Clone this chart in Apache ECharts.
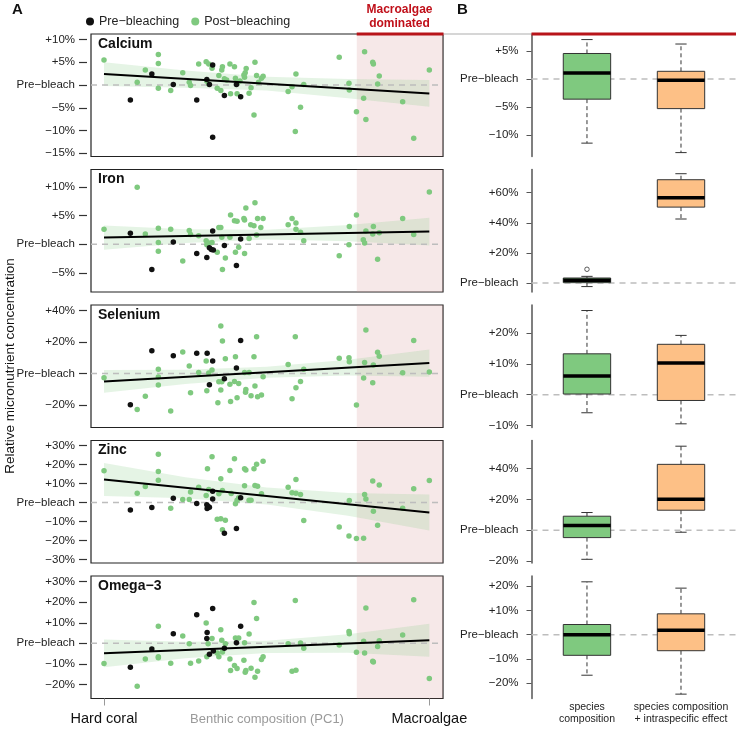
<!DOCTYPE html>
<html>
<head>
<meta charset="utf-8">
<script src="https://cdn.jsdelivr.net/npm/echarts@6/dist/echarts.min.js"></script>
<style>
  html, body { margin: 0; padding: 0; background: #fff; }
  #chart { width: 736px; height: 730px; }
</style>
</head>
<body>
<div id="chart"></div>
<script>
// ---- data (x: 0 = hard coral, 100 = macroalgae) ----
var panelNames = ['Calcium', 'Iron', 'Selenium', 'Zinc', 'Omega\u22123'];

var caPost = [[0,5.5],[10.2,0.6],[12.7,3.3],[16.7,6.7],[16.7,4.7],[16.7,-0.7],[20.5,-1.2],[24.2,2.7],[26.2,0.6],[26.6,-0.1],[29.1,4.6],[31.4,5.1],[32.2,4.6],[33.2,3.7],[31.6,0.8],[32.2,0.2],[34.8,-0.7],[35.3,2.1],[35.9,-1.2],[36.2,3.3],[36.4,4.0],[37.0,1.4],[37.7,1.1],[38.7,4.6],[38.9,-1.9],[40.1,4.0],[40.4,1.5],[40.9,-1.9],[41.0,0.5],[41.8,0.9],[43.0,2.2],[43.2,1.7],[43.4,2.7],[43.7,3.6],[44.6,-1.8],[45.2,-0.6],[46.1,-6.6],[46.4,5.0],[46.9,2.1],[47.5,0.6],[48.4,1.5],[48.9,1.9],[56.6,-1.4],[57.8,-0.4],[59.0,2.4],[58.8,-10.2],[60.4,-4.9],[61.4,0.1],[72.3,6.1],[75.3,0.4],[75.4,-1.1],[77.6,-5.9],[79.8,-2.9],[80.1,7.3],[80.5,-7.6],[82.6,5.0],[82.8,4.6],[84.1,0.2],[84.6,2.0],[91.8,-3.7],[95.2,-11.7],[100,3.3]];
var caPre = [[8.1,-3.3],[14.7,2.4],[21.3,0.1],[28.5,-3.3],[31.6,1.2],[32.4,0.1],[33.4,4.4],[33.4,-11.5],[37.0,-2.3],[40.7,0.1],[42.0,-2.6]];

var fePost = [[0,2.6],[10.2,9.9],[12.7,1.8],[16.7,2.8],[16.7,0.3],[16.7,-1.2],[20.5,2.6],[24.2,-2.9],[26.2,2.4],[26.6,1.7],[29.1,1.5],[31.4,0.6],[31.6,-0.1],[32.2,0.2],[33.2,0.3],[34.8,-1.4],[35.3,2.9],[35.9,2.9],[36.2,1.2],[36.4,-4.4],[37.3,-2.4],[38.7,1.2],[38.9,5.1],[40.1,4.1],[40.4,-1.4],[40.9,4.0],[41.4,-0.5],[43.0,4.5],[43.2,4.2],[43.2,-1.6],[43.6,6.3],[44.6,1.0],[45.1,3.4],[46.1,3.2],[46.4,7.2],[46.9,1.6],[47.2,4.5],[48.2,2.9],[48.9,4.5],[56.6,3.4],[57.8,4.5],[59.0,3.7],[59.0,2.6],[60.4,2.1],[61.4,0.6],[72.3,-2.0],[75.3,-0.1],[75.4,3.1],[77.6,5.1],[79.7,0.8],[80.1,0.2],[80.5,2.3],[82.6,1.8],[82.8,3.1],[84.1,-2.6],[84.6,2.0],[91.8,4.5],[95.2,1.7],[100,9.1]];
var fePre = [[8.1,1.9],[14.7,-4.4],[21.3,0.4],[28.5,-1.6],[31.6,-2.3],[32.4,-0.6],[33.0,-0.9],[33.6,-1.0],[33.4,2.3],[37.0,-0.2],[40.7,-3.7],[42.0,0.9]];

var sePost = [[0,-2.8],[10.2,-23],[12.7,-14.5],[16.7,2.6],[16.7,-2.3],[16.7,-7.4],[20.5,-24],[24.2,13.6],[26.2,4.7],[26.6,-12.3],[29.1,0.6],[31.4,7.9],[31.6,-11.1],[32.2,0.2],[33.2,2.1],[35.0,-18.7],[35.3,-5.3],[35.9,-10.6],[35.9,30.2],[36.2,-5.3],[36.4,20.6],[37.3,9.4],[38.7,-7.0],[38.9,-17.9],[40.1,-5.1],[40.4,10.6],[40.9,-15.5],[41.4,-6.4],[43.2,0.6],[43.5,-12.1],[43.6,-10.2],[44.6,0.6],[45.2,-14.3],[46.1,10.6],[46.4,-8.1],[46.9,23.4],[47.2,-14.9],[48.4,-13.8],[48.9,-2.1],[56.6,5.7],[57.8,-16.2],[58.8,23.4],[59.0,-9.1],[60.4,-5.1],[61.4,2.6],[72.3,9.6],[75.3,10.0],[75.4,7.4],[77.6,-20.2],[79.8,-3.0],[80.1,7.0],[80.5,27.7],[82.6,-6.0],[82.8,5.3],[84.1,13.4],[84.6,10.9],[91.8,0.4],[95.2,20.9],[100,0.9]];
var sePre = [[8.1,-20],[14.7,14.5],[21.3,11.3],[28.5,12.8],[31.7,12.8],[33.4,7.9],[32.4,-7.2],[37.0,-3.4],[40.7,3.4],[42.0,20.9]];

var znPost = [[0,16.7],[10.2,4.9],[12.7,8.5],[16.7,25.5],[16.7,16.4],[16.7,11.8],[20.5,-3.0],[24.2,1.6],[26.2,1.6],[26.6,5.5],[29.1,8.1],[31.4,3.7],[31.8,17.8],[32.2,6.9],[33.2,24.1],[34.8,-8.8],[35.3,4.6],[35.9,12.5],[35.9,-8.6],[36.4,-14.4],[36.4,6.3],[37.3,-9.3],[38.7,16.9],[39.1,4.8],[40.1,23.1],[40.4,-0.7],[40.9,1.2],[41.4,2.5],[43.2,8.8],[43.2,17.8],[43.6,17.1],[44.6,1.2],[45.2,1.2],[46.1,17.8],[46.4,9.0],[46.9,20.2],[47.2,8.6],[48.4,4.6],[48.9,21.8],[56.6,8.1],[57.8,5.1],[59.0,12.1],[59.0,4.9],[60.4,4.2],[61.4,-9.5],[72.3,-12.9],[75.3,-17.6],[75.4,1.1],[77.6,-19.0],[79.8,-18.8],[80.1,4.2],[80.5,1.9],[82.6,11.4],[82.8,-4.6],[84.1,-12.0],[84.6,9.2],[91.8,-3.0],[95.2,7.2],[100,11.6]];
var znPre = [[8.1,-3.9],[14.7,-2.6],[21.3,2.3],[28.5,-0.5],[31.6,-1.2],[31.7,-3.2],[32.4,-2.5],[32.0,-2.1],[33.4,6.0],[33.4,1.9],[37.0,-16.2],[40.7,-13.7],[42.0,2.5]];

var o3Post = [[0,-9.9],[10.2,-20.9],[12.7,-7.6],[16.7,8.3],[16.7,-6.5],[16.7,-7.0],[20.5,-9.7],[24.2,3.6],[26.2,-0.2],[26.6,-9.7],[29.1,-8.6],[31.4,9.9],[31.6,-6.5],[32.0,-0.2],[33.2,2.3],[34.8,-4.7],[35.3,-6.6],[35.9,6.6],[36.2,1.5],[36.4,-4.2],[37.3,-0.2],[38.7,-7.6],[38.9,-13.3],[40.1,-10.8],[40.4,2.6],[40.9,-12.3],[41.4,2.6],[43.0,-8.3],[43.2,0.3],[43.4,-14.1],[43.6,-13.3],[44.6,4.5],[45.2,-12.1],[46.1,19.9],[46.4,-16.5],[46.9,12.1],[47.2,-13.6],[48.4,-7.9],[48.9,-6.5],[56.6,-0.2],[57.8,-13.6],[58.8,20.9],[59.0,-13.1],[60.4,0.2],[61.4,-2.4],[72.3,-0.8],[75.3,5.8],[75.4,4.7],[77.6,-4.4],[79.8,1.0],[80.1,-4.7],[80.5,17.2],[82.6,-8.7],[82.8,-9.1],[84.1,-1.5],[84.6,1.3],[91.8,4.0],[95.2,21.2],[100,-17.2]];
var o3Pre = [[8.1,-11.7],[14.7,-2.8],[21.3,4.7],[28.5,13.9],[31.6,2.3],[31.7,5.3],[32.4,-5.3],[33.4,17.0],[33.6,-3.7],[37.0,-2.4],[40.7,0.3],[42.0,8.3]];

// fitted lines (value at x = 0 and x = 100) and confidence bands
var fitX = [0, 100];
var caFit = [2.4, -1.85], feFit = [1.16, 2.2], seFit = [-5.1, 6.6], znFit = [12.1, -5.3], o3Fit = [-4.9, 1.5];
var bandX = [0, 25, 50, 75, 100];
var caBandHi = [5.0, 3.2, 1.8, 1.3, 1.1],   caBandLo = [-0.2, -0.6, -1.2, -2.9, -4.8];
var feBandHi = [3.26, 2.62, 2.53, 3.34, 4.6], feBandLo = [-0.94, 0.22, 0.83, 0.54, -0.2];
var seBandHi = [2.1, 2.3, 4.25, 8.7, 15.3], seBandLo = [-12.3, -6.7, -2.75, -1.3, -2.1];
var znBandHi = [20.8, 13.3, 7.9, 5.05, 4.2], znBandLo = [3.4, 2.25, -1.1, -6.95, -14.8];
var o3BandHi = [1.9, 0.7, 1.3, 4.4, 9.5],    o3BandLo = [-11.7, -7.3, -4.7, -4.6, -6.5];
var macroStart = 77.7;

// left y axis ranges and ticks
var leftMin = [-15.7, -8.3, -34.5, -31.9, -26.9];
var leftMax = [11.2, 13.0, 43.6, 32.7, 32.8];
var leftTicks = [[10,5,0,-5,-10,-15],[10,5,0,-5],[40,20,0,-20],[30,20,10,0,-10,-20,-30],[30,20,10,0,-10,-20]];

// boxplots: [position, lower whisker, Q1, median, Q3, upper whisker]
var boxLabels = ['species\ncomposition', 'species composition\n+ intraspecific effect'];
var caBoxes = [[1, -11.5, -3.6, 1.1, 4.6, 7.1], [2, -13.2, -5.3, -0.2, 1.4, 6.3]];
var feBoxes = [[1, -2.4, 0.2, 1.8, 3.3, 4.4], [2, 42.5, 50.4, 56.6, 68.6, 72.6]];
var seBoxes = [[1, -5.9, 0.2, 6.1, 13.3, 27.4], [2, -9.5, -1.9, 10.3, 16.4, 19.3]];
var znBoxes = [[1, -18.9, -4.8, 3.0, 9.1, 11.5], [2, -1.3, 13.0, 20.2, 42.8, 54.6]];
var o3Boxes = [[1, -16.7, -8.5, 0, 4.2, 21.8], [2, -24.5, -6.6, 1.8, 8.6, 19.2]];
var feOutliers = [[1, 9.1]];

var rightMin = [-13.9, -6.0, -10.7, -21.3, -26.3];
var rightMax = [8.1, 75.4, 29.2, 58.3, 24.2];
var rightTicks = [[5,0,-5,-10],[60,40,20,0],[20,10,0,-10],[40,20,0,-20],[20,10,0,-10,-20]];

var postData = [caPost, fePost, sePost, znPost, o3Post];
var preData = [caPre, fePre, sePre, znPre, o3Pre];
var fits = [caFit, feFit, seFit, znFit, o3Fit];
var bandsHi = [caBandHi, feBandHi, seBandHi, znBandHi, o3BandHi];
var bandsLo = [caBandLo, feBandLo, seBandLo, znBandLo, o3BandLo];
var boxes = [caBoxes, feBoxes, seBoxes, znBoxes, o3Boxes];

// ---- layout ----
var tops = [34, 169.5, 305, 440.5, 576];
var panelH = 122.5;
var GREEN = '#7fc97f', ORANGE = '#fdc086';
var FONT = "'Liberation Sans', Arial, sans-serif";

function fmtPct(v) {
  if (v === 0) return 'Pre\u2212bleach';
  return (v > 0 ? '+' : '\u2212') + Math.abs(v) + '%';
}

var myChart = echarts.init(document.getElementById('chart'));

var grids = [], xAxes = [], yAxes = [], series = [], titles = [];

for (var i = 0; i < 5; i++) {
  grids.push({ left: 91, right: 293, top: tops[i], height: panelH, show: true, outerBoundsMode: 'none',
               borderColor: '#222', borderWidth: 1.2, backgroundColor: 'transparent' });
  var last = (i === 4);
  xAxes.push({
    gridIndex: i, type: 'value', min: -4.0, max: 104.2, position: 'bottom',
    splitLine: { show: false }, axisLine: { show: false, onZero: false },
    axisTick: { show: last, length: 7, lineStyle: { color: '#999' }, customValues: [0, 100] },
    axisLabel: { show: last, margin: 13, fontSize: 14.5, color: '#111', fontFamily: FONT,
                 customValues: [0, 100],
                 formatter: function (v) { return v === 0 ? 'Hard coral' : 'Macroalgae'; } },
    name: last ? 'Benthic composition (PC1)' : '', nameLocation: 'middle', nameGap: 14,
    nameMoveOverlap: false,
    nameTextStyle: { color: '#9a9a9a', fontSize: 13, fontFamily: FONT, verticalAlign: 'top' }
  });
  // R-style axis: ticks sit a few pixels left of the box
  yAxes.push({
    gridIndex: i, type: 'value', min: leftMin[i], max: leftMax[i], position: 'left', offset: 4,
    splitLine: { show: false },
    axisLine: { show: true, onZero: false, lineStyle: { color: 'rgba(0,0,0,0)' } },
    axisTick: { show: true, length: 8, lineStyle: { color: '#333', width: 1.2 }, customValues: leftTicks[i] },
    axisLabel: { margin: 12, fontSize: 11.5, color: '#222', fontFamily: FONT,
                 customValues: leftTicks[i], formatter: fmtPct }
  });
  titles.push({ text: panelNames[i], left: 98, top: tops[i] + 3, padding: 0,
                textStyle: { fontSize: 14, fontWeight: 'bold', color: '#111', fontFamily: FONT } });

  (function (k) {
    // pink macroalgae zone, confidence band, dashed reference at 0
    series.push({
      type: 'custom', xAxisIndex: k, yAxisIndex: k, z: 1, silent: true,
      data: [[0, 0]],
      renderItem: function (params, api) {
        var cs = params.coordSys;
        var px = api.coord([macroStart, 0])[0];
        var pts = [];
        for (var j = 0; j < bandX.length; j++) pts.push(api.coord([bandX[j], bandsHi[k][j]]));
        for (var j2 = bandX.length - 1; j2 >= 0; j2--) pts.push(api.coord([bandX[j2], bandsLo[k][j2]]));
        var y0 = api.coord([0, 0])[1];
        return { type: 'group', children: [
          { type: 'rect', shape: { x: px, y: cs.y, width: cs.x + cs.width - px, height: cs.height },
            style: { fill: 'rgba(216,150,150,0.22)' } },
          { type: 'polygon', shape: { points: pts }, style: { fill: 'rgba(127,201,127,0.2)' } },
          { type: 'line', shape: { x1: cs.x, y1: y0, x2: cs.x + cs.width, y2: y0 },
            style: { stroke: '#bdbdbd', lineWidth: 1.5, lineDash: [6, 5] } }
        ] };
      }
    });
  })(i);

  series.push({ name: 'Post\u2212bleaching', type: 'scatter', xAxisIndex: i, yAxisIndex: i, z: 3,
                symbolSize: 5.5, itemStyle: { color: GREEN, opacity: 1 }, data: postData[i] });
  series.push({ name: 'Pre\u2212bleaching', type: 'scatter', xAxisIndex: i, yAxisIndex: i, z: 4,
                symbolSize: 5.5, itemStyle: { color: '#111', opacity: 1 }, data: preData[i] });
  series.push({ type: 'line', xAxisIndex: i, yAxisIndex: i, z: 5, symbol: 'none', silent: true,
                lineStyle: { color: '#000', width: 2 },
                data: [[fitX[0], fits[i][0]], [fitX[1], fits[i][1]]] });
}

// right panels (boxplots)
for (var r = 0; r < 5; r++) {
  var gi = 5 + r;
  grids.push({ left: 531.5, right: 0, top: tops[r], height: panelH, show: false, outerBoundsMode: 'none' });
  var lastR = (r === 4);
  xAxes.push({
    gridIndex: gi, type: 'value', min: 0.41, max: 2.585, position: 'bottom',
    splitLine: { show: false }, axisLine: { show: false, onZero: false }, axisTick: { show: false },
    axisLabel: { show: lastR, margin: 3, fontSize: 10.5, lineHeight: 12, color: '#222', fontFamily: FONT,
                 customValues: [1, 2],
                 formatter: function (v) { return boxLabels[v - 1]; } }
  });
  yAxes.push({
    gridIndex: gi, type: 'value', min: rightMin[r], max: rightMax[r], position: 'left',
    splitLine: { show: false },
    axisLine: { show: true, onZero: false, lineStyle: { color: '#555', width: 1.5 } },
    axisTick: { show: true, length: 5, lineStyle: { color: '#555' }, customValues: rightTicks[r] },
    axisLabel: { margin: 13, fontSize: 11.5, color: '#222', fontFamily: FONT,
                 customValues: rightTicks[r], formatter: fmtPct }
  });

  series.push({
    type: 'custom', xAxisIndex: gi, yAxisIndex: gi, z: 1, silent: true,
    data: [[0, 0]],
    renderItem: function (params, api) {
      var cs = params.coordSys;
      var y0 = api.coord([1, 0])[1];
      return { type: 'line', shape: { x1: cs.x, y1: y0, x2: cs.x + cs.width, y2: y0 },
               style: { stroke: '#bdbdbd', lineWidth: 1.5, lineDash: [6, 5] } };
    }
  });

  series.push({
    type: 'custom', xAxisIndex: gi, yAxisIndex: gi, z: 3, silent: true,
    data: boxes[r],
    renderItem: function (params, api) {
      var x = api.value(0);
      var lo = api.coord([x, api.value(1)]);
      var q1 = api.coord([x, api.value(2)]);
      var md = api.coord([x, api.value(3)]);
      var q3 = api.coord([x, api.value(4)]);
      var hi = api.coord([x, api.value(5)]);
      var half = api.size([0.252, 0])[0];
      var cap = api.size([0.06, 0])[0];
      var cx = lo[0];
      var fill = params.dataIndex === 0 ? GREEN : ORANGE;
      var dash = { stroke: '#333', lineWidth: 1, lineDash: [4, 3] };
      return { type: 'group', children: [
        { type: 'line', shape: { x1: cx, y1: q3[1], x2: cx, y2: hi[1] }, style: dash },
        { type: 'line', shape: { x1: cx, y1: q1[1], x2: cx, y2: lo[1] }, style: dash },
        { type: 'line', shape: { x1: cx - cap, y1: hi[1], x2: cx + cap, y2: hi[1] }, style: { stroke: '#333', lineWidth: 1 } },
        { type: 'line', shape: { x1: cx - cap, y1: lo[1], x2: cx + cap, y2: lo[1] }, style: { stroke: '#333', lineWidth: 1 } },
        { type: 'rect', shape: { x: cx - half, y: q3[1], width: 2 * half, height: q1[1] - q3[1] },
          style: { fill: fill, stroke: '#333', lineWidth: 1 } },
        { type: 'line', shape: { x1: cx - half, y1: md[1], x2: cx + half, y2: md[1] },
          style: { stroke: '#000', lineWidth: 3.5 } }
      ] };
    }
  });
}

series.push({ type: 'scatter', xAxisIndex: 6, yAxisIndex: 6, z: 4, symbolSize: 4.5, silent: true,
              itemStyle: { color: '#fff', borderColor: '#333', borderWidth: 1 }, data: feOutliers });

var option = {
  animation: false,
  textStyle: { fontFamily: FONT },
  title: titles,
  legend: {
    data: ['Pre\u2212bleaching', 'Post\u2212bleaching'], left: 86, top: 15, padding: 0,
    icon: 'circle', itemWidth: 8, itemHeight: 8, itemGap: 12,
    textStyle: { fontSize: 12.5, color: '#222', fontFamily: FONT }
  },
  grid: grids,
  xAxis: xAxes,
  yAxis: yAxes,
  series: series,
  graphic: [
    { type: 'text', left: 12, top: 2, style: { text: 'A', fontSize: 15, fontWeight: 'bold', fill: '#111', fontFamily: FONT } },
    { type: 'text', left: 457, top: 2, style: { text: 'B', fontSize: 15, fontWeight: 'bold', fill: '#111', fontFamily: FONT } },
    { type: 'text', x: 399.5, y: 3, style: { text: 'Macroalgae\ndominated', textAlign: 'center', lineHeight: 14,
      fontSize: 12, fontWeight: 'bold', fill: '#c0101a', fontFamily: FONT } },
    { type: 'line', shape: { x1: 443, y1: 34, x2: 531.5, y2: 34 }, style: { stroke: '#c8c8c8', lineWidth: 1.5 }, z: 10 },
    { type: 'line', shape: { x1: 356.7, y1: 34, x2: 443.5, y2: 34 }, style: { stroke: '#b8141a', lineWidth: 2.8 }, z: 10 },
    { type: 'line', shape: { x1: 531.5, y1: 34, x2: 736, y2: 34 }, style: { stroke: '#b8141a', lineWidth: 2.8 }, z: 10 },
    { type: 'text', x: 10, y: 366, rotation: Math.PI / 2,
      style: { text: 'Relative micronutrient concentration', textAlign: 'center', textVerticalAlign: 'middle',
               fontSize: 13.5, fill: '#111', fontFamily: FONT } }
  ]
};

myChart.setOption(option);
</script>
</body>
</html>
